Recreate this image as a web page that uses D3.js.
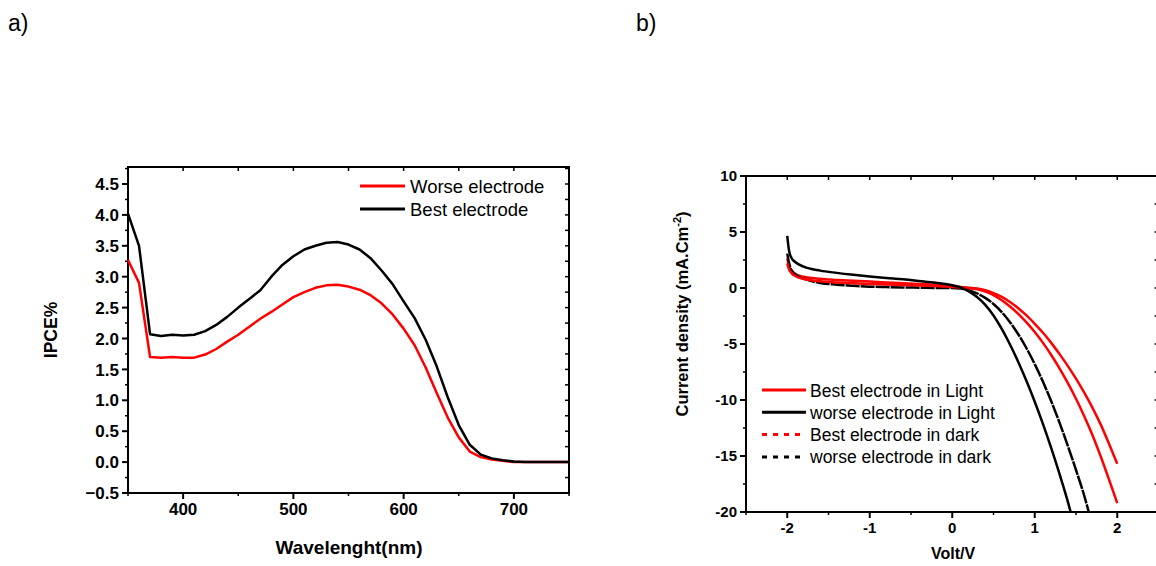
<!DOCTYPE html>
<html>
<head>
<meta charset="utf-8">
<script src="https://cdnjs.cloudflare.com/ajax/libs/d3/7.8.5/d3.min.js"></script>
<style>
  body { margin: 0; background: #fff; }
  text { font-family: "Liberation Sans", Arial, sans-serif; }
</style>
</head>
<body>
<svg id="chart" width="1156" height="566"></svg>
<script>
// ---- panel a: IPCE ----
var wavelength = [350, 360, 370, 380, 390, 400, 410, 420, 430, 440, 450, 460, 470, 480, 490,
    500, 510, 520, 530, 540, 550, 560, 570, 580, 590, 600, 610, 620, 630, 640, 650,
    660, 670, 680, 690, 700, 710, 720, 730, 740, 750];
var worseIpce = [3.27, 2.90, 1.70, 1.69, 1.70, 1.69, 1.69, 1.74, 1.83, 1.95, 2.06, 2.19, 2.32, 2.43, 2.55,
    2.67, 2.75, 2.82, 2.86, 2.87, 2.84, 2.79, 2.70, 2.57, 2.39, 2.16, 1.89, 1.53, 1.12, 0.72, 0.40,
    0.17, 0.08, 0.04, 0.02, 0.0, 0.0, 0.0, 0.0, 0.0, 0.0];
var bestIpce = [4.02, 3.50, 2.07, 2.04, 2.06, 2.05, 2.06, 2.12, 2.22, 2.35, 2.50, 2.64, 2.78, 3.00, 3.19,
    3.33, 3.44, 3.50, 3.55, 3.56, 3.52, 3.44, 3.30, 3.10, 2.88, 2.60, 2.33, 1.98, 1.55, 1.05, 0.60,
    0.28, 0.12, 0.06, 0.03, 0.01, 0.0, 0.0, 0.0, 0.0, 0.0];
var ipceTicks = [-0.5, 0.0, 0.5, 1.0, 1.5, 2.0, 2.5, 3.0, 3.5, 4.0, 4.5];
var wlTicks = [400, 500, 600, 700];

// ---- panel b: J-V ----
var voltGrid = [-2, -1.98, -1.95, -1.9, -1.8, -1.6, -1.4, -1.2, -1.0, -0.8, -0.6, -0.4, -0.2, 0,
    0.1, 0.2, 0.3, 0.4, 0.5, 0.6, 0.7, 0.8, 0.9, 1.0, 1.1, 1.2, 1.3, 1.4, 1.5, 1.6, 1.7, 1.8, 1.9, 2.0];
var bestLight = [2.2, 1.7, 1.35, 1.05, 0.8, 0.6, 0.5, 0.42, 0.36, 0.31, 0.27, 0.22, 0.17, 0.1,
    0.04, -0.02, -0.12, -0.32, -0.64, -1.09, -1.65, -2.31, -3.07, -3.93, -4.9, -5.98, -7.17, -8.47, -9.89, -11.45, -13.15, -15.05, -17.1, -19.2];
var worseLight = [4.65, 3.4, 2.7, 2.3, 1.9, 1.55, 1.35, 1.18, 1.03, 0.9, 0.78, 0.63, 0.47, 0.25,
    0.05, -0.3, -0.8, -1.5, -2.45, -3.65, -5.05, -6.6, -8.3, -10.15, -12.15, -14.3, -16.6, -19.05];
var worseLightEnd = [1.435, -20];
var bestDark = [2.65, 2.0, 1.6, 1.25, 1.0, 0.82, 0.72, 0.64, 0.57, 0.5, 0.43, 0.36, 0.28, 0.18,
    0.1, 0.02, -0.05, -0.2, -0.45, -0.8, -1.25, -1.8, -2.45, -3.2, -4.0, -4.9, -5.9, -6.95, -8.1, -9.35, -10.7, -12.2, -13.9, -15.7];
var worseDark = [3.07, 2.3, 1.6, 1.2, 0.84, 0.45, 0.3, 0.2, 0.12, 0.08, 0.05, 0.03, 0.01, 0.0,
    -0.05, -0.2, -0.48, -0.88, -1.43, -2.15, -3.05, -4.13, -5.38, -6.8, -8.38, -10.12, -12.02, -14.07, -16.25, -18.55];
var worseDarkEnd = [1.655, -20];
var jTicks = [-20, -15, -10, -5, 0, 5, 10];
var vTicks = [-2, -1, 0, 1, 2];

var svg = d3.select("#chart");

function pairs(xs, ys, end) {
  var out = ys.map(function (y, i) { return [xs[i], y]; });
  if (end) out.push(end);
  return out;
}

// boxed frame: outward ticks on left/bottom, inward on top/right
function frame(g, x, y, xMajor, xMinor, yMajor, yMinor, fontSize, yFmt) {
  var x0 = x.range()[0], x1 = x.range()[1], y0 = y.range()[0], y1 = y.range()[1];
  g.append("rect").attr("x", x0).attr("y", y1).attr("width", x1 - x0).attr("height", y0 - y1)
    .attr("fill", "none").attr("stroke", "#000").attr("stroke-width", 2);

  g.selectAll(".ymin").data(yMinor).enter().append("line")
    .attr("x1", x0).attr("x2", x0 - 3).attr("y1", y).attr("y2", y)
    .attr("stroke", "#000").attr("stroke-width", 1.5);
  g.selectAll(".ymaj").data(yMajor).enter().append("line")
    .attr("x1", x0).attr("x2", x0 - 6).attr("y1", y).attr("y2", y)
    .attr("stroke", "#000").attr("stroke-width", 2);
  g.selectAll(".yr").data(yMajor.concat(yMinor)).enter().append("line")
    .attr("x1", x1).attr("x2", x1 - 4).attr("y1", y).attr("y2", y)
    .attr("stroke", "#000").attr("stroke-width", 1.5);
  g.selectAll(".ylab").data(yMajor).enter().append("text")
    .attr("x", x0 - 9).attr("y", function (d) { return y(d) + fontSize * 0.36; })
    .attr("text-anchor", "end").attr("font-size", fontSize).attr("font-weight", "bold")
    .text(yFmt);

  g.selectAll(".xmin").data(xMinor).enter().append("line")
    .attr("y1", y0).attr("y2", y0 + 3).attr("x1", x).attr("x2", x)
    .attr("stroke", "#000").attr("stroke-width", 1.5);
  g.selectAll(".xmaj").data(xMajor).enter().append("line")
    .attr("y1", y0).attr("y2", y0 + 6).attr("x1", x).attr("x2", x)
    .attr("stroke", "#000").attr("stroke-width", 2);
  g.selectAll(".xt").data(xMajor.concat(xMinor)).enter().append("line")
    .attr("y1", y1).attr("y2", y1 + 4).attr("x1", x).attr("x2", x)
    .attr("stroke", "#000").attr("stroke-width", 1.5);
  g.selectAll(".xlab").data(xMajor).enter().append("text")
    .attr("x", x).attr("y", y0 + 10 + fontSize * 0.72)
    .attr("text-anchor", "middle").attr("font-size", fontSize).attr("font-weight", "bold")
    .text(function (d) { return d; });
}

// ---- panel a ----
var xa = d3.scaleLinear().domain([350, 750]).range([128, 569]);
var ya = d3.scaleLinear().domain([-0.5, 4.775]).range([493, 167]);
var ga = svg.append("g");

svg.append("text").attr("x", 8).attr("y", 31).attr("font-size", 23).text("a)");

var ipceMinor = d3.range(-0.25, 4.76, 0.5);
frame(ga, xa, ya, wlTicks, [350, 450, 550, 650, 750], ipceTicks, ipceMinor, 17, d3.format(".1f"));

var lineA = d3.line().x(function (d) { return xa(d[0]); }).y(function (d) { return ya(d[1]); });
ga.append("path").datum(pairs(wavelength, worseIpce)).attr("d", lineA)
  .attr("fill", "none").attr("stroke", "#ff0000").attr("stroke-width", 2.5).attr("stroke-linejoin", "round");
ga.append("path").datum(pairs(wavelength, bestIpce)).attr("d", lineA)
  .attr("fill", "none").attr("stroke", "#000").attr("stroke-width", 2.5).attr("stroke-linejoin", "round");

var legA = [{label: "Worse electrode", color: "#ff0000"}, {label: "Best electrode", color: "#000"}];
legA.forEach(function (d, i) {
  var yy = 186 + i * 23;
  ga.append("line").attr("x1", 360).attr("x2", 405).attr("y1", yy).attr("y2", yy)
    .attr("stroke", d.color).attr("stroke-width", 3);
  ga.append("text").attr("x", 410).attr("y", yy + 6.5).attr("font-size", 18.5).text(d.label);
});

ga.append("text").attr("transform", "translate(57,330) rotate(-90)")
  .attr("text-anchor", "middle").attr("font-size", 17.5).attr("font-weight", "bold").text("IPCE%");
ga.append("text").attr("x", 349).attr("y", 554)
  .attr("text-anchor", "middle").attr("font-size", 19).attr("font-weight", "bold").text("Wavelenght(nm)");

// ---- panel b ----
var xb = d3.scaleLinear().domain([-2.5, 2.5]).range([746, 1158.5]);
var yb = d3.scaleLinear().domain([-20, 10]).range([512, 176]);
var gb = svg.append("g");

svg.append("text").attr("x", 636).attr("y", 31).attr("font-size", 23).text("b)");

svg.append("clipPath").attr("id", "clipb").append("rect")
  .attr("x", 746).attr("y", 176).attr("width", 412.5).attr("height", 336);

frame(gb, xb, yb, vTicks, [-2.5, -1.5, -0.5, 0.5, 1.5, 2.5], jTicks, [-17.5, -12.5, -7.5, -2.5, 2.5, 7.5], 15,
  function (d) { return d; });

var lineB = d3.line().x(function (d) { return xb(d[0]); }).y(function (d) { return yb(d[1]); })
  .curve(d3.curveMonotoneX);
var seriesB = [
  {data: pairs(voltGrid, bestDark), color: "#ff0000", dash: null},
  {data: pairs(voltGrid, worseDark, worseDarkEnd), color: "#000", dash: "14,1"},
  {data: pairs(voltGrid, bestLight), color: "#ff0000", dash: null},
  {data: pairs(voltGrid, worseLight, worseLightEnd), color: "#000", dash: null}
];
seriesB.forEach(function (s) {
  gb.append("path").datum(s.data).attr("d", lineB).attr("clip-path", "url(#clipb)")
    .attr("fill", "none").attr("stroke", s.color).attr("stroke-width", 2.5)
    .attr("stroke-dasharray", s.dash);
});

var legB = [
  {label: "Best electrode in Light", color: "#ff0000", dash: null},
  {label: "worse electrode in Light", color: "#000", dash: null},
  {label: "Best electrode in dark", color: "#ff0000", dash: "5,6"},
  {label: "worse electrode in dark", color: "#000", dash: "5,6"}
];
legB.forEach(function (d, i) {
  var yy = 390 + i * 22.3;
  gb.append("line").attr("x1", 762).attr("x2", 806).attr("y1", yy).attr("y2", yy)
    .attr("stroke", d.color).attr("stroke-width", 3).attr("stroke-dasharray", d.dash);
  gb.append("text").attr("x", 810).attr("y", yy + 6.5).attr("font-size", 17.5).text(d.label);
});

var yTitle = gb.append("text").attr("transform", "translate(688,314) rotate(-90)")
  .attr("text-anchor", "middle").attr("font-size", 16.5).attr("font-weight", "bold");
yTitle.append("tspan").text("Current density (mA.Cm");
yTitle.append("tspan").attr("dy", -7).attr("font-size", 11).text("-2");
yTitle.append("tspan").attr("dy", 7).text(")");

gb.append("text").attr("x", 953).attr("y", 559)
  .attr("text-anchor", "middle").attr("font-size", 16).attr("font-weight", "bold").text("Volt/V");
</script>
</body>
</html>
